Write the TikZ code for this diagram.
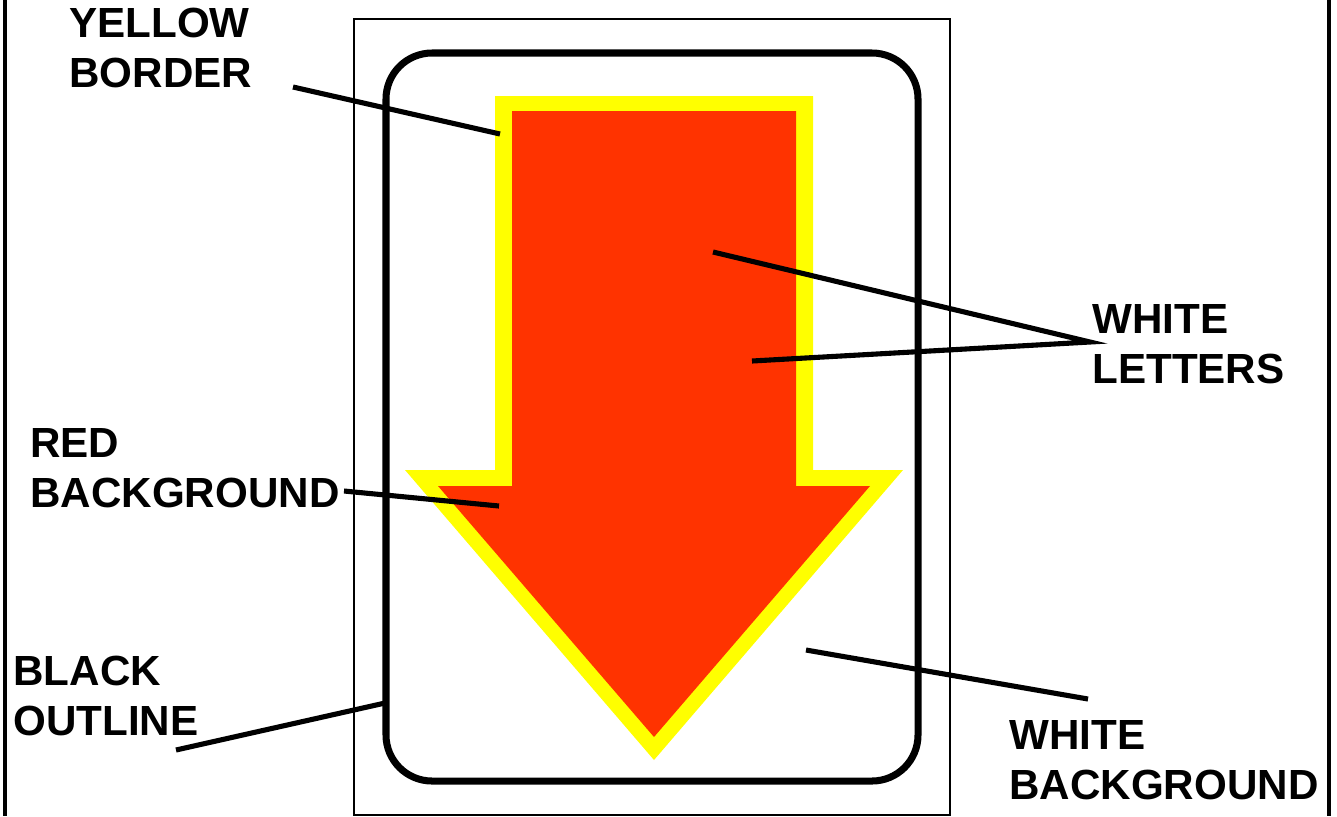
\documentclass[tikz,border=0pt]{standalone}
\usepackage{fontspec}
\setmainfont{Liberation Sans}
\usepackage{tikz}
\usetikzlibrary{positioning}
\definecolor{signred}{HTML}{FF3300}
\definecolor{signyellow}{HTML}{FFFF00}
\tikzset{
  lbl/.style    = {anchor=north west, align=left, inner sep=0pt,
                   font=\fontsize{24}{28.45}\selectfont\bfseries},
  leader/.style = {draw=black, line width=2.9pt},
  frame/.style  = {draw=black, line width=2.2pt},
  plate/.style  = {draw=black, line width=1.1pt},
  outline/.style= {draw=black, line width=4pt, rounded corners=0.92cm},
}

\begin{document}
\begin{tikzpicture}[x=0.02cm, y=-0.02cm]
    \useasboundingbox (0,0) rectangle (1337,816);
    % page edges and sign plate
    \draw[frame] (5,0) -- (5,816);
    \draw[frame] (1329,0) -- (1329,816);
    \draw[plate] (354,19) rectangle (950,815);
    \draw[outline] (386,53) rectangle (918,781);
    % the arrow: yellow border, red inside
    \fill[signyellow] (495,96) -- (813,96) -- (813,470) -- (903,470) -- (654,760)
        -- (405,470) -- (495,470) -- cycle;
    \fill[signred] (512,111) -- (796,111) -- (796,486) -- (870,486) -- (654,737)
        -- (438,486) -- (512,486) -- cycle;

    % labels
    \node[lbl] (yellowlbl)  at (69,8)    {YELLOW\\BORDER};
    \node[lbl] (letterslbl) at (1092,304) {WHITE\\LETTERS};
    \node[lbl] (redlbl)     at (30,428)  {RED\\BACKGROUND};
    \node[lbl] (outlinelbl) at (13,656)  {BLACK\\OUTLINE};
    \node[lbl] (whitebglbl) at (1009,720) {WHITE\\BACKGROUND};

    % leader ends
    \coordinate (yb1) at (293,87);   \coordinate (yb2) at (500,134);
    \coordinate (wl0) at (1090,342); \coordinate (wl1) at (713,252);
    \coordinate (wl2) at (752,361);
    \coordinate (rb1) at (344,491);  \coordinate (rb2) at (499,506);
    \coordinate (bo1) at (176,750);  \coordinate (bo2) at (385,703);
    \coordinate (wb1) at (806,650);  \coordinate (wb2) at (1088,699);

    \draw[leader] (yb1) -- (yb2);
    \draw[leader] (wl1) -- (wl0) -- (wl2);
    \draw[leader] (rb1) -- (rb2);
    \draw[leader] (bo1) -- (bo2);
    \draw[leader] (wb1) -- (wb2);
\end{tikzpicture}
\end{document}
